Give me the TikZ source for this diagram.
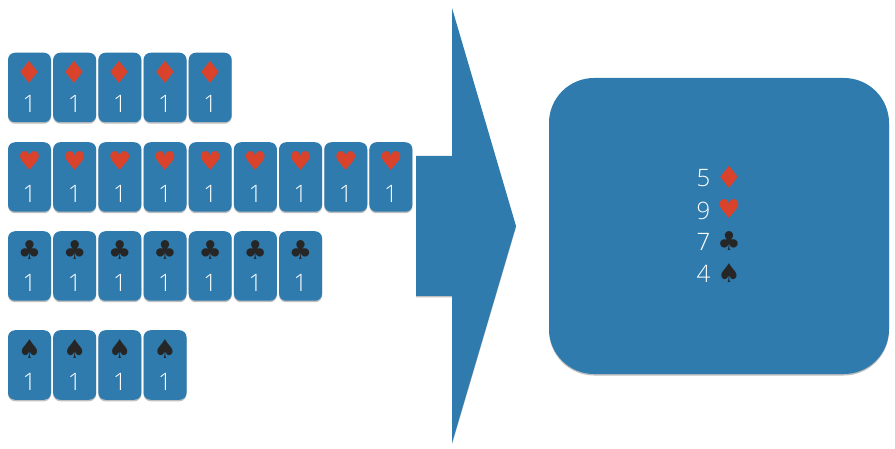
\documentclass[tikz,border=0pt]{standalone}
\usepackage{fontspec}
\setmainfont{Open Sans}[UprightFont=* Light]
\newfontfamily\suitfont{DejaVu Sans}
\usetikzlibrary{shadows}
\definecolor{feltblue}{HTML}{2F7BAE}
\definecolor{suitred}{HTML}{D9432C}
\definecolor{suitblack}{HTML}{262626}
\tikzset{
  felt/.style={fill=feltblue, drop shadow={shadow xshift=0pt, shadow yshift=-1.5pt, opacity=0.25, fill=black}},
  card/.style={felt, rounded corners=7pt, minimum width=43pt, minimum height=69.5pt, inner sep=0pt},
  digit/.style={text=white, font=\fontsize{24}{24}\selectfont, inner sep=0pt},
  suit/.style={font=\suitfont\fontsize{26}{26}\selectfont, inner sep=0pt},
  red suit/.style={suit, text=suitred},
  wide suit/.style={red suit, xscale=1.2, yscale=1.18},
  black suit/.style={suit, text=suitblack}
}
\begin{document}
\begin{tikzpicture}[x=1pt, y=-1pt]
    \useasboundingbox (0,0) rectangle (895,449);
    % arrow
    \draw [felt, draw=none] (416,156) -- (452,156) -- (452,8) -- (516,226)
      -- (452,443) -- (452,296) -- (416,296) -- cycle;
    % rows of cards
    \foreach \row/\ypos/\total/\glyph/\look in {%
        diamonds/87.5/5/♦/wide suit,
        hearts/177/9/♥/red suit,
        clubs/266/7/♣/black suit,
        spades/365/4/♠/black suit} {
      \foreach \i in {1,...,\total} {
        \node [card] (\row\i) at ({29.5+45.18*(\i-1)},\ypos) {};
        \node [\look] (\row\i suit) at ([yshift=15.5pt]\row\i.center) {\glyph};
        \node [digit] (\row\i one) at ([yshift=-16.5pt]\row\i.center) {1};
      }
    }
    % summary
    \node [felt, rounded corners=45pt, minimum width=340pt, minimum height=296pt] (summary) at (719,226) {};
    \foreach \row/\ypos/\ysuit/\total/\glyph/\look in {%
        diamonds/178/177/5/♦/wide suit,
        hearts/210.5/209/9/♥/red suit,
        clubs/242/241/7/♣/black suit,
        spades/274/273/4/♠/black suit} {
      \node [digit] (\row count) at (703.5,\ypos) {\total};
      \node [\look] (\row total) at (729,\ysuit) {\glyph};
    }
\end{tikzpicture}
\end{document}
